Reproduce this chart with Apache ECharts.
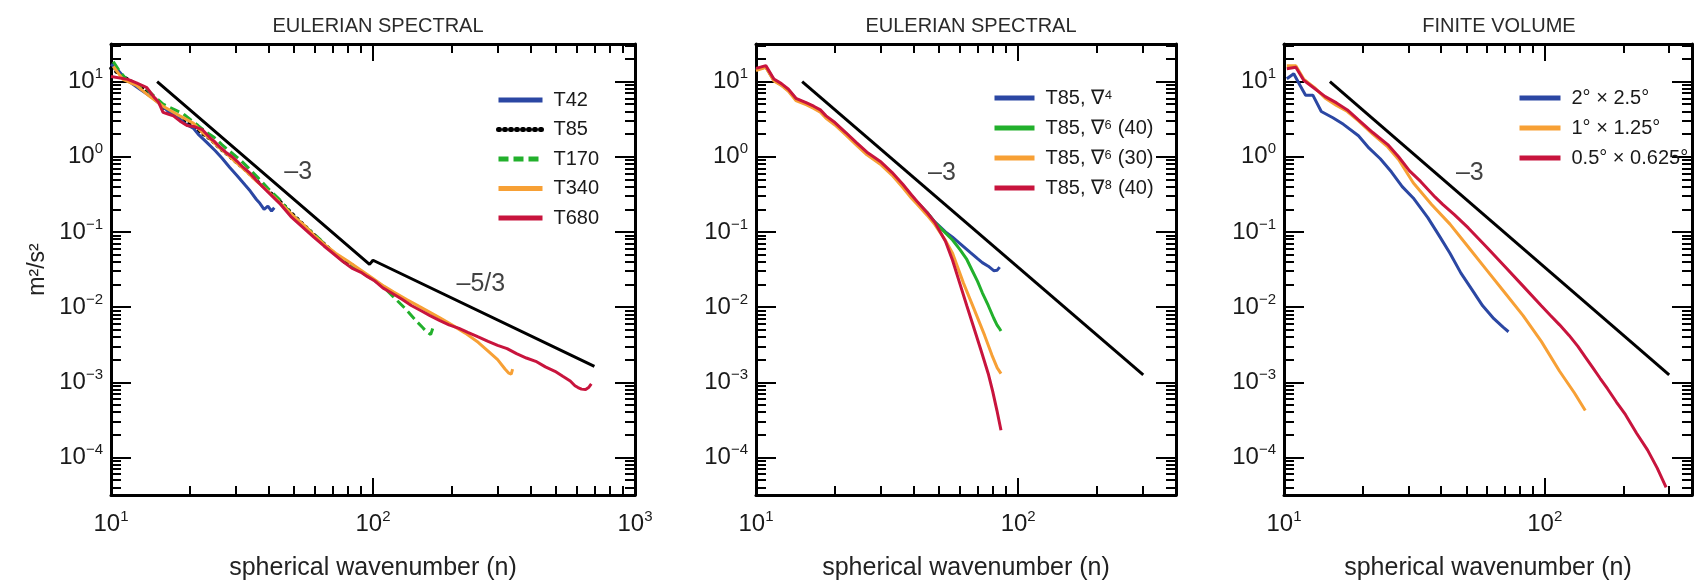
<!DOCTYPE html>
<html><head><meta charset="utf-8">
<script src="https://cdn.jsdelivr.net/npm/echarts@6/dist/echarts.min.js"></script>
<style>html,body{margin:0;padding:0;background:#fff}#c{width:1695px;height:586px}</style>
</head><body><div id="c"></div>
<script>
// ---------- DATA (n, m^2/s^2) ----------
// Panel 1: Eulerian spectral, resolutions
const t42 = [[10,17],[10.5,15],[11.4,10.7],[12.9,7.9],[14.5,6.0],[15.5,4.9],[16.3,4.2],[17.7,3.4],[18.3,3.2],[19,2.8],[20.6,2.4],[21.5,2.0],[23.2,1.55],[25,1.2],[26.5,0.96],[28.4,0.72],[30.3,0.56],[32.5,0.42],[34,0.35],[35.9,0.27],[37,0.24],[38.4,0.2],[39.7,0.22],[41,0.19],[42,0.21]];
const t85 = [[10,15],[11,12],[12,10],[13,8.5],[14,7],[15,5.5],[16,4.4],[18,3.3],[20,2.7],[22,2.1],[24,1.7],[26,1.3],[28,1.05],[30,0.85],[33,0.64],[36,0.48],[40,0.35],[45,0.24],[50,0.165],[55,0.12],[60,0.09],[65,0.07],[70,0.055],[75,0.045],[80,0.039],[85,0.035]];
const t170 = [[10.2,18.4],[10.8,13.7],[11.6,10.1],[12.5,9.2],[13.7,7.9],[14.6,6.4],[15.8,5.0],[17.3,4.3],[18.9,3.7],[20.6,2.9],[21.5,2.6],[23,2.15],[24.8,1.8],[26.5,1.45],[28.4,1.18],[31,0.92],[33.6,0.7],[36.5,0.52],[39.7,0.38],[44,0.27],[49,0.17],[55.6,0.115],[61.5,0.085],[68,0.06],[72,0.05],[77.9,0.039],[85,0.033],[92,0.028],[100,0.023],[109,0.019],[120,0.0135],[133,0.0095],[147,0.0064],[155,0.0053],[160,0.0047],[166,0.0043],[169,0.0052]];
const t340 = [[10.2,15.9],[11.1,10.7],[12.5,8.9],[14,6.4],[15.8,4.7],[18.3,3.5],[20.6,2.8],[22,2.2],[24,1.7],[26,1.3],[28,1.05],[30,0.84],[33,0.63],[36,0.47],[40,0.34],[45,0.23],[50,0.16],[55,0.12],[60,0.088],[66,0.066],[72,0.052],[80,0.041],[90,0.031],[100,0.024],[110,0.019],[120,0.0158],[135,0.0125],[150,0.0102],[165,0.0085],[180,0.0072],[200,0.0058],[225,0.0045],[252,0.0034],[275,0.0026],[299,0.002],[319,0.0015],[330,0.00132],[337,0.00128],[341,0.0015]];
const t680 = [[10,11.7],[11.6,10.7],[12.5,9.6],[13.7,8.3],[14.5,6.4],[15.2,5.3],[15.8,3.9],[16.5,3.7],[17.3,3.5],[18.3,3.0],[19.5,2.6],[20.9,2.5],[22.3,2.3],[24,1.75],[24.8,1.6],[26,1.35],[27.4,1.15],[29,1.0],[30.3,0.87],[32,0.72],[34,0.6],[36,0.48],[39.7,0.34],[44,0.24],[48.6,0.16],[54,0.115],[59.4,0.085],[65,0.065],[70.3,0.052],[77,0.04],[83,0.033],[90,0.029],[95,0.0256],[102,0.022],[109,0.018],[120,0.0148],[129,0.0127],[140,0.0105],[152,0.009],[165,0.0077],[180,0.0066],[195,0.0058],[213,0.0052],[230,0.0046],[252,0.004],[275,0.0035],[299,0.0031],[325,0.0028],[353,0.0024],[385,0.0021],[418,0.0019],[455,0.0016],[495,0.0014],[530,0.0012],[566,0.00104],[590,0.0009],[606,0.00085],[625,0.00081],[648,0.0008],[665,0.00085],[681,0.00095]];
const ref1 = [[15,10],[97,0.037],[100,0.042],[700,0.00163]];

// Panel 2: T85 with different diffusion
const p2d4 = [[10,14.5],[10.9,15.6],[11.7,10.4],[12.5,9.0],[13.3,7.6],[14.2,5.8],[15.6,5.0],[16.6,4.5],[17.6,4.0],[18.5,3.35],[20,2.75],[22,2.0],[24.1,1.5],[26.5,1.1],[30,0.8],[33,0.59],[36.3,0.41],[39.2,0.3],[41.1,0.25],[45,0.18],[48.1,0.136],[52.8,0.1],[56.2,0.085],[60,0.07],[65.8,0.053],[70,0.044],[73,0.039],[76.9,0.035],[80.7,0.0305],[83.2,0.031],[85,0.034]];
const p2d6a = [[10,14.5],[10.9,15.8],[11.7,10.5],[12.5,9.1],[13.3,7.7],[14.2,5.9],[15.6,5.1],[16.6,4.6],[17.6,4.1],[18.5,3.4],[20,2.8],[22,2.05],[24.1,1.52],[26.5,1.12],[30,0.82],[33,0.6],[36.3,0.42],[39.2,0.3],[41.1,0.25],[45,0.18],[48.1,0.134],[52.8,0.097],[56.2,0.078],[60,0.058],[63.7,0.043],[67,0.03],[70,0.022],[73,0.0155],[76.9,0.0105],[80.7,0.0071],[83,0.0058],[84.5,0.0053],[86,0.0048]];
const p2d6b = [[10,14],[10.9,15.5],[11.7,10.2],[12.5,8.9],[13.3,7.4],[14.2,5.6],[15.6,4.9],[16.6,4.4],[17.6,3.9],[18.5,3.25],[20,2.65],[22,1.95],[24.1,1.44],[26.5,1.06],[30,0.78],[33,0.57],[36.3,0.39],[39.2,0.28],[41.1,0.235],[45,0.166],[48.1,0.125],[52.8,0.077],[56.2,0.052],[61.8,0.021],[67.9,0.0094],[74.5,0.0042],[79.4,0.0023],[83.2,0.00155],[86,0.0013]];
const p2d8 = [[10,15],[10.9,16.3],[11.7,10.8],[12.5,9.4],[13.3,7.9],[14.2,6.0],[15.6,5.2],[16.6,4.7],[17.6,4.2],[18.5,3.5],[20,2.85],[22,2.1],[24.1,1.55],[26.5,1.15],[30,0.85],[33,0.62],[36.3,0.43],[39.2,0.31],[41.1,0.256],[45,0.18],[48.1,0.134],[52.8,0.075],[56.2,0.042],[59.8,0.021],[63.7,0.0104],[67.9,0.0052],[72.3,0.0026],[76.9,0.0013],[80,0.00075],[83,0.00042],[86,0.00023]];
const ref2 = [[15,10],[300,0.00125]];

// Panel 3: finite volume
const fv2 = [[10.25,10.9],[10.9,12.7],[11.5,9.0],[12.1,6.6],[12.9,6.6],[13.9,4.0],[15.4,3.3],[16.9,2.7],[19.3,1.9],[21.2,1.3],[23.4,0.94],[25.8,0.63],[28.4,0.4],[31.3,0.283],[35.6,0.155],[39.3,0.09],[43.3,0.052],[47.7,0.0283],[52.5,0.0172],[57.8,0.0104],[63.8,0.007],[69.2,0.0054],[72.6,0.0047]];
const fv1 = [[10.25,16.3],[11.1,16.3],[11.9,10.8],[13.1,8.3],[14.4,6.0],[15.9,4.8],[17.5,4.0],[19.3,3.0],[21.9,2.0],[25,1.35],[27.5,0.92],[31.3,0.45],[36.8,0.232],[43.3,0.127],[50.9,0.063],[59.8,0.0313],[70.3,0.0155],[82.6,0.0077],[97,0.0035],[114,0.0014],[130,0.00072],[143,0.00042]];
const fv05 = [[10.25,14.8],[11.1,15.5],[11.9,10.4],[13.1,8.1],[14.4,6.3],[15.9,5.2],[17.5,4.2],[19.3,3.1],[21.9,2.1],[25,1.45],[27.5,1.0],[30.3,0.65],[33.4,0.47],[38,0.29],[40.6,0.232],[45,0.17],[50.9,0.113],[59.8,0.063],[70.3,0.0346],[82.6,0.019],[97,0.0104],[105,0.0078],[114,0.0058],[124,0.0042],[134,0.003],[144,0.0021],[153,0.00155],[163,0.00113],[174,0.00082],[188,0.00055],[204,0.00037],[225,0.00021],[248,0.000125],[270,0.000072],[292,0.00004]];
const ref3 = [[15,10],[300,0.00125]];

// slope annotations
const ann1 = [{value:[51.8,0.62], text:'–3'},{value:[258,0.0201], text:'–5/3'}];
const ann2 = [{value:[51.2,0.61], text:'–3'}];
const ann3 = [{value:[51.6,0.61], text:'–3'}];

const titles = ['EULERIAN SPECTRAL','EULERIAN SPECTRAL','FINITE VOLUME'];
const xMax = [1000, 400, 367];
const yMin = 3.1623e-5, yMax = 31.623;

// ---------- STYLE ----------
const FONT = 'Liberation Sans';
const C = {blue:'#2b47a3', black:'#000', green:'#22b02c', orange:'#f7a035', red:'#c8143d'};
const grids = [
  {left:111, top:44, width:524, height:457},
  {left:756, top:44, width:420, height:457},
  {left:1284, top:44, width:410, height:457}
];
const titleX = [373, 966, 1494];
function supLabel(v){
  const e = Math.log10(v); const r = Math.round(e);
  if (Math.abs(e - r) > 1e-6) return '';
  return '{b|10}{s|' + (r < 0 ? '−' + (-r) : String(r)) + '}';
}
const rich = {
  b:{fontSize:24, fontFamily:FONT, color:'#1a1a1a', lineHeight:30},
  s:{fontSize:15, fontFamily:FONT, color:'#1a1a1a', verticalAlign:'top', lineHeight:15}
};
function axCommon(major, minor){
  return {
    axisLine:{show:true, onZero:false, lineStyle:{color:'#000', width:3}},
    axisTick:{show:true, inside:true, length:major, lineStyle:{color:'#000', width:2}},
    minorTick:{show:true, splitNumber:9, length:minor, lineStyle:{color:'#000', width:2}},
    splitLine:{show:false}, minorSplitLine:{show:false}
  };
}
const xAxes = [], yAxes = [];
for (let g = 0; g < 3; g++) {
  ['bottom','top'].forEach(pos => xAxes.push(Object.assign({
    type:'log', logBase:10, gridIndex:g, min:10, max:xMax[g], position:pos,
    axisLabel:{show:pos==='bottom', margin:14, formatter:supLabel, rich:rich},
    name: pos==='bottom' ? 'spherical wavenumber (n)' : '', nameLocation:'middle', nameGap:61,
    nameTextStyle:{fontSize:25, fontFamily:FONT, color:'#222'}
  }, axCommon(17, 9))));
  ['left','right'].forEach(pos => yAxes.push(Object.assign({
    type:'log', logBase:10, gridIndex:g, min:yMin, max:yMax, position:pos,
    axisLabel:{show:pos==='left', margin:8, formatter:supLabel, rich:rich},
    name: (g===0 && pos==='left') ? 'm²/s²' : '', nameLocation:'middle', nameRotate:90, nameGap:62,
    nameTextStyle:{fontSize:23, fontFamily:FONT, color:'#222'}
  }, axCommon(20, 10))));
}
function ln(name, data, color, g, opts){
  opts = opts || {};
  return {name, type:'line', xAxisIndex:g*2, yAxisIndex:g*2, data, showSymbol:false, symbol:'none',
    lineStyle:{color, width:opts.width||3, type:opts.type||'solid', cap:opts.cap||'butt'},
    itemStyle:{color}, emphasis:{disabled:true}, z:opts.z||2, silent:true, clip:true};
}
function ann(data, g){
  return {name:'ann'+g, type:'scatter', xAxisIndex:g*2, yAxisIndex:g*2, symbolSize:1,
    itemStyle:{color:'rgba(0,0,0,0)'}, silent:true, z:5,
    data:data.map(d => ({value:d.value, label:{formatter:d.text}})),
    label:{show:true, position:'inside', fontSize:25, fontFamily:FONT, color:'#111'}};
}
const series = [
  ln('T85', t85, C.black, 0, {type:[1,5], cap:'round', width:3.5, z:1}),
  ln('T42', t42, C.blue, 0),
  ln('T170', t170, C.green, 0, {type:[10,5]}),
  ln('T340', t340, C.orange, 0),
  ln('T680', t680, C.red, 0),
  ln('ref1', ref1, '#000', 0, {width:3}),
  ln('T85, ∇⁴', p2d4, C.blue, 1),
  ln('T85, ∇⁶ (40)', p2d6a, C.green, 1),
  ln('T85, ∇⁶ (30)', p2d6b, C.orange, 1),
  ln('T85, ∇⁸ (40)', p2d8, C.red, 1),
  ln('ref2', ref2, '#000', 1, {width:3}),
  ln('2° × 2.5°', fv2, C.blue, 2),
  ln('1° × 1.25°', fv1, C.orange, 2),
  ln('0.5° × 0.625°', fv05, C.red, 2),
  ln('ref3', ref3, '#000', 2, {width:3}),
  ann(ann1, 0), ann(ann2, 1), ann(ann3, 2)
];
const legText = {fontSize:20, fontFamily:FONT, color:'#1a1a1a', padding:[0,0,0,6]};
const legCommon = {orient:'vertical', itemHeight:20, selectedMode:false, padding:0,
  lineStyle:{width:5}, itemStyle:{opacity:0, borderWidth:0}, textStyle:legText};
const option = {
  animation:false,
  textStyle:{fontFamily:FONT},
  title: titles.map((t,i) => ({text:t, left:titleX[i], top:11, textAlign:'center',
    textStyle:{fontSize:20, fontWeight:'normal', fontFamily:FONT, color:'#2a2a2a'}})),
  grid: grids,
  xAxis: xAxes,
  yAxis: yAxes,
  legend: [
    Object.assign({data:['T42','T85','T170','T340','T680'], left:496, top:90, itemWidth:44, itemGap:9.5}, legCommon),
    Object.assign({data:['T85, ∇⁴','T85, ∇⁶ (40)','T85, ∇⁶ (30)','T85, ∇⁸ (40)'], left:992, top:88, itemWidth:40, itemGap:10}, legCommon),
    Object.assign({data:['2° × 2.5°','1° × 1.25°','0.5° × 0.625°'], left:1517, top:88, itemWidth:41, itemGap:10}, legCommon)
  ],
  series: series
};
const chart = echarts.init(document.getElementById('c'), null, {renderer:'canvas'});
chart.setOption(option);
</script></body></html>
